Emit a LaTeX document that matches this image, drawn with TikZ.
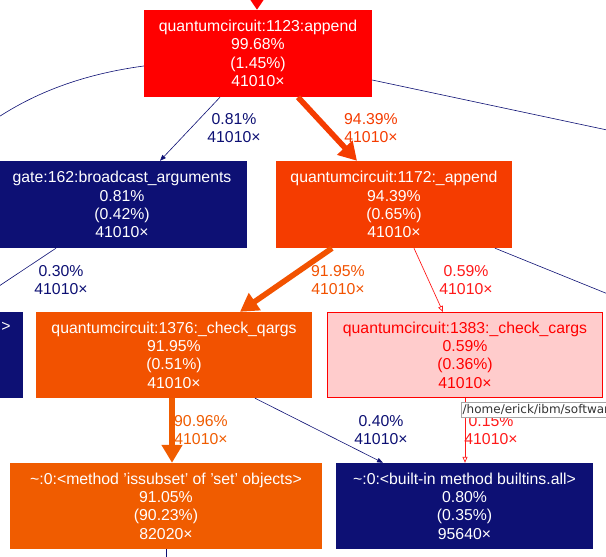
\documentclass[tikz,border=0pt]{standalone}
\usepackage{fontspec}
\setmainfont{Liberation Sans}
\newfontfamily\tipfont{DejaVu Sans}
\usetikzlibrary{arrows.meta}
\definecolor{navy}{HTML}{0D1074}
\definecolor{hotred}{HTML}{FF0000}
\definecolor{appcol}{HTML}{F53C00}
\definecolor{qcol}{HTML}{F25200}
\definecolor{subcol}{HTML}{F05C00}
\definecolor{hlfill}{HTML}{FFCCCC}
\definecolor{hlred}{HTML}{FF1A1A}
\tikzset{
  box/.style={rectangle, inner sep=0pt, align=center, text=white,
    font=\fontsize{15.8}{18.3}\selectfont},
  lbl/.style={inner sep=0pt, align=center, font=\fontsize{15.8}{18.3}\selectfont},
  thinnavy/.style={draw=navy, line width=0.6pt},
  navytip/.style={thinnavy, -{Triangle[width=4.5pt,length=6pt]}},
  redtip/.style={draw=hlred, line width=0.7pt, -{Triangle[open,width=5pt,length=6pt]}},
  bigedge/.style={line width=5.6pt, -{Triangle[width=20pt,length=18pt]}},
}
\begin{document}
\begin{tikzpicture}[x=1pt,y=-1pt]
\clip (0,0) rectangle (606,557);
\fill[white] (0,0) rectangle (606,557);

% nodes
\node[box, fill=hotred, minimum width=228pt, minimum height=87pt] (append) at (258,53.5)
  {quantumcircuit:1123:append\\99.68\%\\(1.45\%)\\41010×};
\node[box, fill=navy, minimum width=250pt, minimum height=87pt] (bcast) at (122,204.5)
  {gate:162:broadcast\_arguments\\0.81\%\\(0.42\%)\\41010×};
\node[box, fill=appcol, minimum width=236pt, minimum height=87pt] (app2) at (394,204.5)
  {quantumcircuit:1172:\_append\\94.39\%\\(0.65\%)\\41010×};
\node[box, fill=navy, minimum width=60pt, minimum height=86pt, anchor=east] (leftbox) at (23,355) {};
\node[box, anchor=base] (leftgt) at (6,331) {>};
\node[box, fill=qcol, minimum width=276pt, minimum height=86pt] (qargs) at (174,355)
  {quantumcircuit:1376:\_check\_qargs\\91.95\%\\(0.51\%)\\41010×};
\node[box, fill=hlfill, draw=hotred, line width=1pt, text=hotred, minimum width=275pt, minimum height=85pt] (cargs) at (465,355)
  {quantumcircuit:1383:\_check\_cargs\\0.59\%\\(0.36\%)\\41010×};
\node[box, fill=subcol, minimum width=312pt, minimum height=86pt] (issub) at (166,506)
  {\textasciitilde:0:<method 'issubset' of 'set' objects>\\91.05\%\\(90.23\%)\\82020×};
\node[box, fill=navy, minimum width=257pt, minimum height=86pt] (builtin) at (464.5,506)
  {\textasciitilde:0:<built-in method builtins.all>\\0.80\%\\(0.35\%)\\95640×};

% off-picture ends
\coordinate (topin) at (257,-20);
\coordinate (offleftA) at (-20,130);
\coordinate (offleftB) at (-25,302);
\coordinate (offrightA) at (640,137);
\coordinate (offrightB) at (640,307);
\coordinate (offbottom) at (166,580);

% edges
\draw[hotred, line width=4pt, -{Triangle[width=14pt,length=11pt]}] (topin) -- (append.north -| 257,0);
\draw[navytip] (append.south -| 220,0) -- (bcast.north -| 160,0);
\draw[appcol, bigedge] (append.south -| 298,0) -- (app2.north -| 357,0);
\draw[thinnavy] (append.west |- 0,66) .. controls (70,76) and (20,100) .. (offleftA);
\draw[thinnavy] (append.east |- 0,80) -- (offrightA);
\draw[thinnavy] (bcast.south -| 56,0) -- (offleftB);
\draw[qcol, bigedge] (app2.south -| 332,0) -- (qargs.north -| 240,0);
\draw[redtip] (app2.south -| 414,0) -- (cargs.north -| 443,0);
\draw[thinnavy] (app2.south -| 495,0) -- (offrightB);
\draw[subcol, bigedge] (qargs.south -| 172,0) -- (issub.north -| 172,0);
\draw[navytip] (qargs.south -| 255,0) -- (builtin.north -| 383,0);
\draw[redtip] (cargs.south -| 465,0) -- (builtin.north -| 465,0);
\draw[thinnavy] (issub.south) -- (offbottom);

% edge labels
\node[lbl, text=navy] (l1) at (234,128) {0.81\%\\41010×};
\node[lbl, text=appcol] (l2) at (371,128) {94.39\%\\41010×};
\node[lbl, text=navy] (l3) at (61,280) {0.30\%\\41010×};
\node[lbl, text=qcol] (l4) at (338,280) {91.95\%\\41010×};
\node[lbl, text=hlred] (l5) at (466,280) {0.59\%\\41010×};
\node[lbl, text=subcol] (l6) at (201,430) {90.96\%\\41010×};
\node[lbl, text=navy] (l7) at (381,430) {0.40\%\\41010×};
\node[lbl, text=hlred] (l8) at (491,430) {0.15\%\\41010×};

% tooltip
\node[draw=gray!70, fill=white, inner sep=1.5pt, anchor=north west, text=black!80,
  font=\tipfont\fontsize{12}{14}\selectfont, minimum height=15pt] (tip) at (461,402)
  {/home/erick/ibm/software};
\end{tikzpicture}
\end{document}
